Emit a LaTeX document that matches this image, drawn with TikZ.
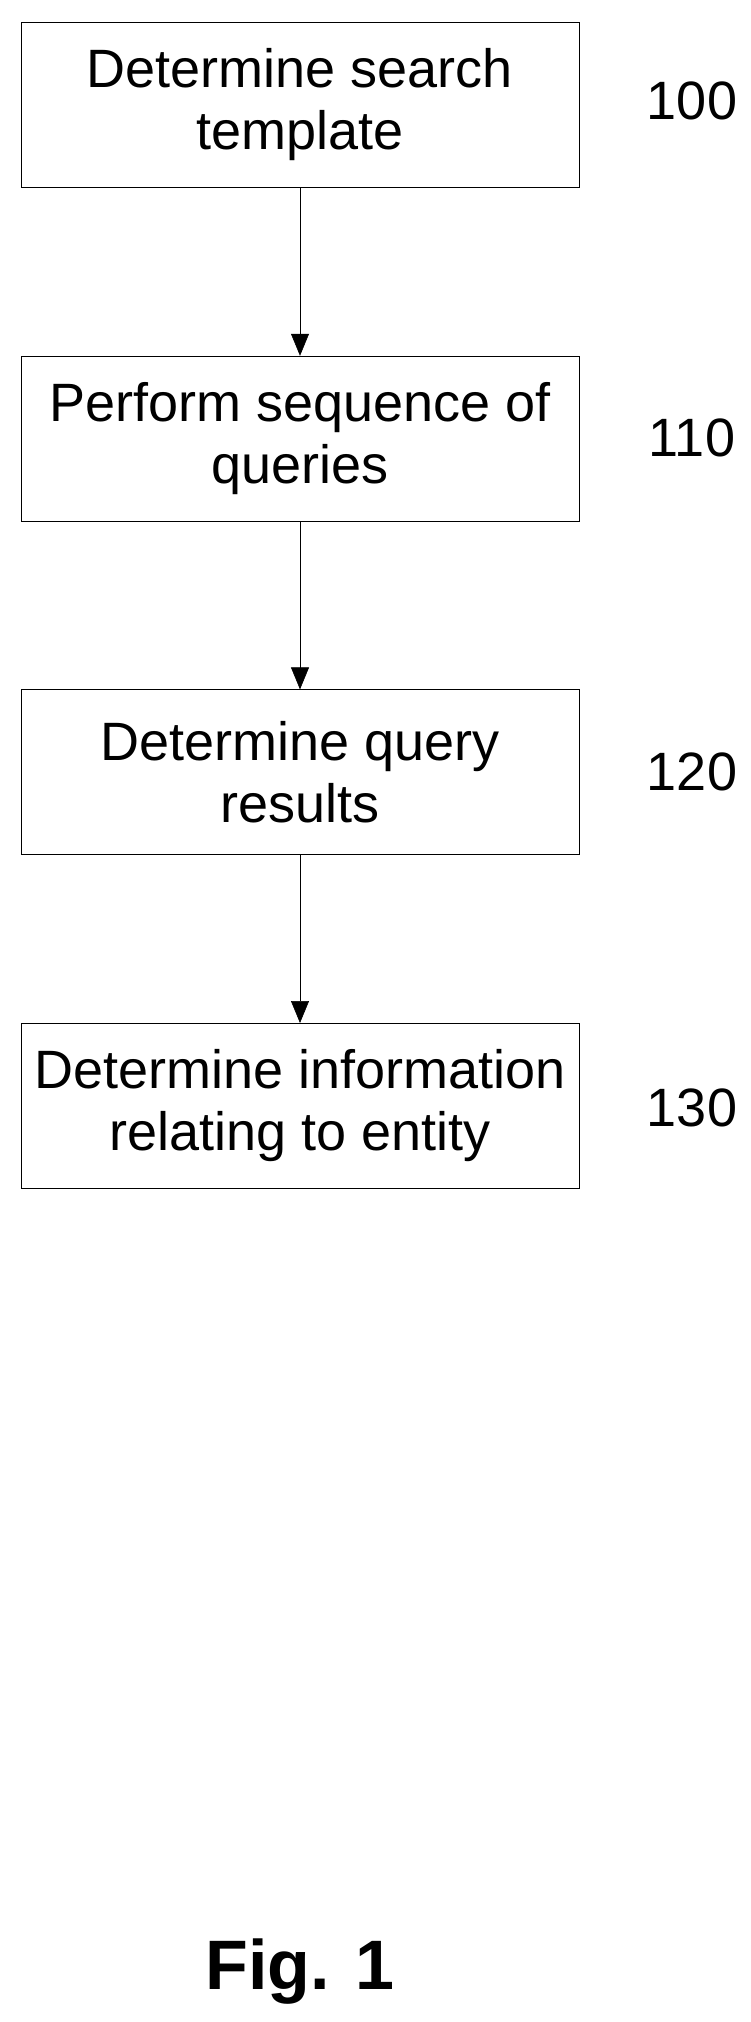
\documentclass[tikz,border=0pt]{standalone}
\usepackage{fontspec}
\setmainfont{Liberation Sans}
\usetikzlibrary{positioning, arrows.meta}

\begin{document}
\begin{tikzpicture}[x=1pt, y=1pt, node distance={168pt}, semithick,
  box/.style = {draw, minimum width=558pt, minimum height=165pt, align=center,
    font=\fontsize{54}{62}\selectfont},
  num/.style = {font=\fontsize{54}{62}\selectfont}]
\useasboundingbox (0,0) rectangle (751,-2022);
\node[box] (a) at (300,-105) {Determine search\\template};
\node[box] (b) [below=of a] {Perform sequence of\\queries};
\node[box] (c) [below=of b] {Determine query\\results};
\node[box] (d) [below=of c] {Determine information\\relating to entity};

\node[num] (na) at (692,-101) {100};
\node[num] (nb) at (692,-438) {110};
\node[num] (nc) at (692,-772) {120};
\node[num] (nd) at (692,-1108) {130};

\node[font=\bfseries\fontsize{70}{80}\selectfont] (fig) at (300,-1972) {Fig. 1};

\draw[-{Triangle[length=22pt, width=18pt]}] (a) -- (b);
\draw[-{Triangle[length=22pt, width=18pt]}] (b) -- (c);
\draw[-{Triangle[length=22pt, width=18pt]}] (c) -- (d);
\end{tikzpicture}
\end{document}
